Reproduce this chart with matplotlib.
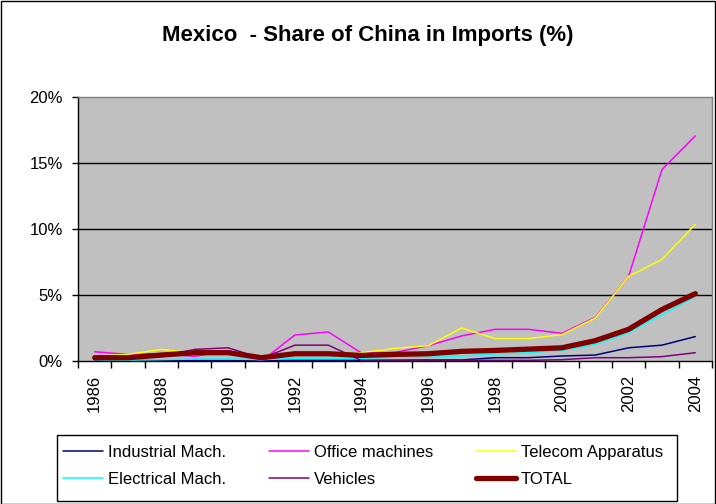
import matplotlib
matplotlib.use("Agg")
import matplotlib.pyplot as plt
from matplotlib.patches import Rectangle

plt.rcParams["font.family"] = ["Liberation Sans", "DejaVu Sans"]

years = list(range(1986, 2005))
year_labels = [str(y) if y % 2 == 0 else "" for y in years]

industrial = [0.05, 0.05, 0.05, 0.05, 0.05, 0.05, 0.05, 0.05, 0.05, 0.06,
              0.08, 0.08, 0.25, 0.25, 0.38, 0.45, 1.0, 1.2, 1.85]
office = [0.7, 0.5, 0.55, 0.35, 0.8, 0.0, 1.97, 2.2, 0.6, 0.65,
          1.16, 1.9, 2.4, 2.4, 2.1, 3.3, 6.4, 14.5, 17.05]
telecom = [0.35, 0.5, 0.88, 0.6, 0.6, 0.2, 0.45, 0.45, 0.63, 0.96,
           1.16, 2.5, 1.7, 1.7, 2.0, 3.25, 6.4, 7.7, 10.35]
electrical = [0.05, 0.05, 0.1, 0.15, 0.15, 0.1, 0.2, 0.2, 0.2, 0.28,
              0.28, 0.38, 0.53, 0.63, 0.8, 1.26, 2.15, 3.5, 4.9]
vehicles = [0.1, 0.2, 0.35, 0.88, 1.0, 0.2, 1.2, 1.2, 0.03, 0.05,
            0.05, 0.05, 0.05, 0.05, 0.1, 0.25, 0.25, 0.33, 0.63]
total = [0.25, 0.25, 0.45, 0.63, 0.63, 0.25, 0.55, 0.55, 0.42, 0.5,
         0.55, 0.73, 0.8, 0.9, 1.0, 1.54, 2.4, 3.9, 5.1]

series = [
    ("Industrial Mach.", industrial, "#000080", 1.1),
    ("Office machines", office, "#FF00FF", 1.1),
    ("Telecom Apparatus", telecom, "#FFFF00", 1.1),
    ("Electrical Mach.", electrical, "#00FFFF", 1.1),
    ("Vehicles", vehicles, "#800080", 1.1),
    ("TOTAL", total, "#800000", 3.8),
]
y_ticks = [0, 5, 10, 15, 20]

W, H = 716, 504
fig = plt.figure(figsize=(W / 100, H / 100), dpi=100)
ax = fig.add_axes([78 / W, 1 - 361 / H, (712 - 78) / W, (361 - 97) / H])
ax.set_facecolor("#C0C0C0")

x = list(range(len(years)))
handles = {}
for name, vals, color, lw in series:
    h, = ax.plot(x, vals, color=color, lw=lw, label=name,
                 solid_joinstyle="round", solid_capstyle="round")
    handles[name] = h

ax.set_xlim(-0.5, len(years) - 0.5)
ax.set_ylim(0, 20)
ax.set_yticks(y_ticks)
ax.set_yticklabels([f"{v}%" for v in y_ticks], fontsize=12)
for v in y_ticks[1:-1]:
    ax.axhline(v, color="black", lw=1.0, zorder=0.5)

ax.set_xticks(x)
ax.set_xticklabels(year_labels, rotation=90, fontsize=12)
ax.set_xticks([i - 0.5 for i in range(len(years) + 1)], minor=True)
ax.tick_params(axis="x", which="major", length=0, pad=10)
ax.tick_params(axis="x", which="minor", length=5, width=1, direction="out")
ax.tick_params(axis="y", length=4, width=1, direction="out", pad=7)

for side in ("top", "right"):
    ax.spines[side].set_color("#808080")
    ax.spines[side].set_linewidth(1.0)
for side in ("left", "bottom"):
    ax.spines[side].set_color("black")
    ax.spines[side].set_linewidth(1.0)

fig.text(368 / W, 1 - 36 / H, "Mexico  - Share of China in Imports (%)",
         ha="center", va="center", fontsize=16, fontweight="bold")

# Legend: framed box holding three two-row columns
fig.patches.append(Rectangle((57 / W, 1 - 501 / H), (677 - 57) / W, (501 - 435) / H,
                             transform=fig.transFigure, fill=False,
                             edgecolor="black", lw=1.0))
legend_columns = [
    (63, ["Industrial Mach.", "Electrical Mach."]),
    (269, ["Office machines", "Vehicles"]),
    (476, ["Telecom Apparatus", "TOTAL"]),
]
for x0, names in legend_columns:
    fig.legend(handles=[handles[n] for n in names], loc="center left",
               bbox_to_anchor=(x0 / W, 1 - 466 / H), frameon=False,
               fontsize=12, handlelength=2.4, handletextpad=0.3,
               borderpad=0, borderaxespad=0, labelspacing=0.75)

fig.patches.append(Rectangle((0.5 / W, 0.5 / H), 1 - 1.5 / W, 1 - 1.5 / H,
                             transform=fig.transFigure, fill=False,
                             edgecolor="black", lw=1.0))

fig.savefig("out.png", dpi=100)
